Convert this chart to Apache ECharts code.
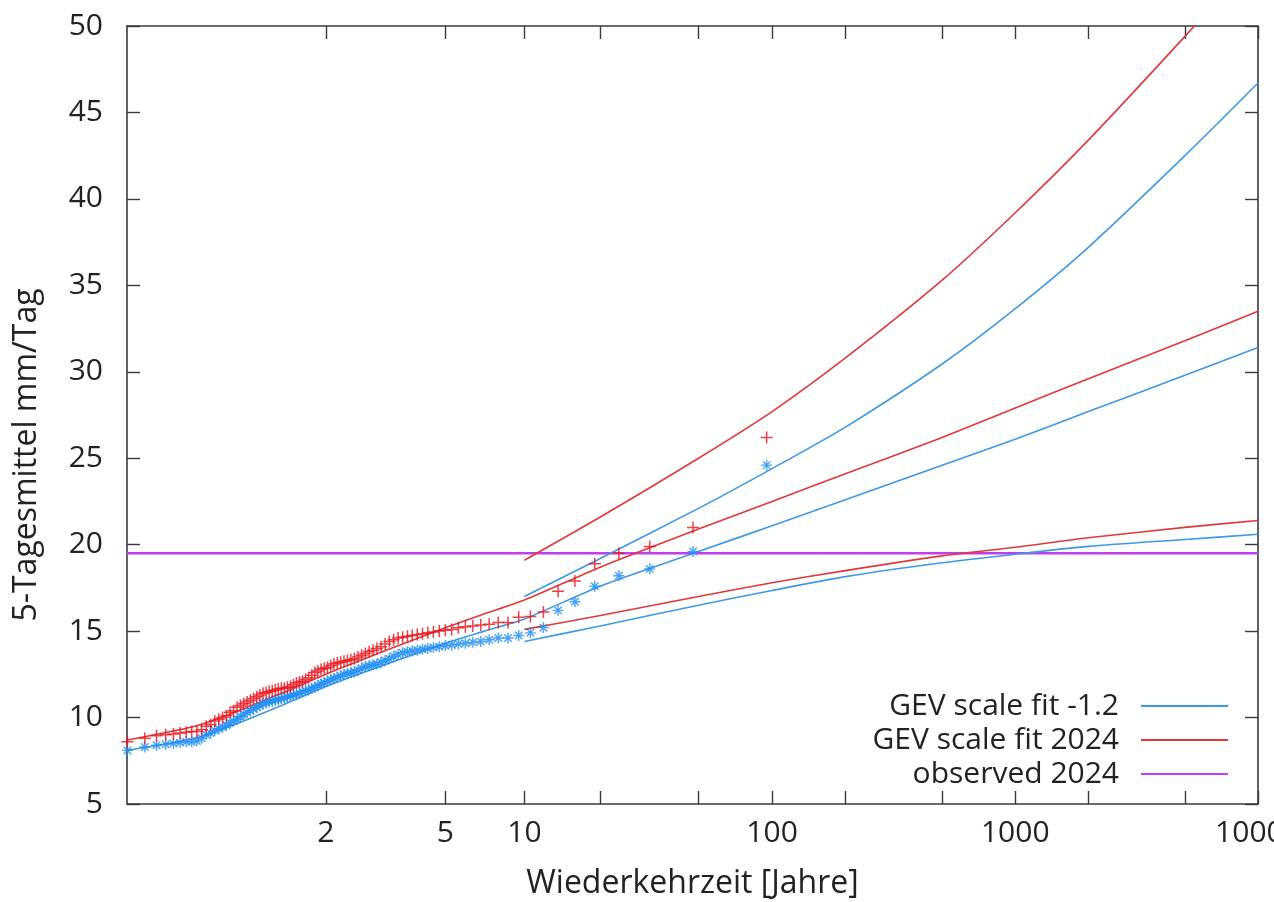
<!DOCTYPE html>
<html><head><meta charset="utf-8">
<script src="https://cdn.jsdelivr.net/npm/echarts@6/dist/echarts.min.js"></script>
<style>html,body{margin:0;padding:0;background:#fff}#c{width:1274px;height:902px}</style>
</head><body><div id="c"></div>
<script>
// ---- data ----
const sampleSize = 94; // annual maxima, Weibull plotting position T=(n+1)/rank
// observed values sorted descending (rank 1 = largest)
const observedScaled2024 = [26.2,21.0,19.9,19.5,18.9,17.9,17.3,16.1,15.85,15.8,
  15.5,15.5,15.4,15.35,15.3,15.25,15.2,15.1,15.05,15.0,
  14.95,14.9,14.85,14.8,14.75,14.7,14.65,14.6,14.5,14.4,
  14.25,14.1,14.0,13.9,13.8,13.7,13.6,13.5,13.4,13.35,
  13.3,13.25,13.2,13.15,13.1,13.0,12.9,12.85,12.8,12.7,
  12.6,12.45,12.3,12.2,12.1,12.05,12.0,11.9,11.8,11.75,
  11.7,11.7,11.65,11.6,11.55,11.5,11.45,11.4,11.3,11.2,
  11.1,11.0,10.9,10.8,10.7,10.6,10.4,10.3,10.1,10.0,
  9.9,9.8,9.6,9.5,9.3,9.2,9.2,9.15,9.1,9.05,
  9.0,8.95,8.8,8.6];
const observedScaledMinus12 = [24.6,19.6,18.6,18.2,17.6,16.7,16.2,15.2,14.9,14.75,
  14.6,14.6,14.5,14.4,14.35,14.3,14.25,14.2,14.15,14.1,
  14.05,14.0,13.95,13.9,13.85,13.8,13.75,13.65,13.55,13.4,
  13.3,13.2,13.1,13.05,13.0,12.95,12.85,12.75,12.65,12.6,
  12.55,12.5,12.4,12.35,12.25,12.2,12.1,12.0,11.95,11.85,
  11.75,11.7,11.6,11.55,11.5,11.4,11.35,11.3,11.25,11.2,
  11.15,11.1,11.05,11.0,10.95,10.9,10.85,10.8,10.7,10.6,
  10.5,10.4,10.3,10.2,10.05,9.9,9.8,9.7,9.55,9.45,
  9.35,9.25,9.1,9.0,8.8,8.65,8.6,8.6,8.55,8.5,
  8.45,8.4,8.3,8.1];

const fitPeriods = [1.0106,1.1,1.2,1.5,2,3,5,7,10,20,50,100,200,500,1000,2000,5000,10000];
const fit2024Central   = [8.7,9.5,10.1,11.3,12.5,13.8,15.2,16.0,16.8,18.7,20.9,22.5,24.1,26.2,27.9,29.6,31.8,33.5];
const fitMinus12Central= [8.1,8.8,9.4,10.6,11.8,13.0,14.3,15.0,15.7,17.6,19.6,21.1,22.6,24.6,26.1,27.7,29.8,31.4];

const bandPeriods = [10,20,50,100,200,500,1000,2000,5000,10000];
const fit2024Upper    = [19.1,21.6,25.0,27.7,30.8,35.3,39.2,43.4,49.4,54.1];
const fit2024Lower    = [15.1,15.9,17.0,17.8,18.5,19.35,19.85,20.4,21.0,21.4];
const fitMinus12Upper = [17.0,19.2,22.1,24.4,26.8,30.45,33.65,37.2,42.5,46.7];
const fitMinus12Lower = [14.4,15.3,16.5,17.35,18.15,18.95,19.45,19.9,20.3,20.6];

const observed2024 = 19.5;

const xTickPeriods  = [2,5,10,20,50,100,200,500,1000,2000,5000,10000];
const xLabelPeriods = [2,5,10,100,1000,10000];
const yMin = 5, yMax = 50, yStep = 5;

const names = {blue:'GEV scale fit -1.2', red:'GEV scale fit 2024', obs:'observed 2024'};

// ---- Gumbel return-period scale ----
const gumbel = T => -Math.log(-Math.log(1 - 1 / T));
const xMin = -1.52, xMax = gumbel(10000);

const pts = arr => arr.map((v, i) => [gumbel((sampleSize + 1) / (i + 1)), v]);
const curve = (periods, vals) => periods.map((T, i) => [gumbel(T), vals[i]]);

const BLUE = '#3d98e6', RED = '#e0383a', BLUE_PT = '#1b8cf5', RED_PT = '#e8121a', MAG = '#c23cf2';
const FONT = '"Open Sans", "DejaVu Sans", sans-serif';
const AX = '#3a3a3a';

function lineSeries(name, data, color) {
  return {type:'line', name, data, symbol:'none', smooth:0.25,
    lineStyle:{color, width:1.6}, itemStyle:{color}, z:3, silent:true};
}

const series = [
  {type:'scatter', name:'obs -1.2', data: pts(observedScaledMinus12),
   symbol:'path://M5,0L5,10M0,5L10,5M1.6,1.6L8.4,8.4M8.4,1.6L1.6,8.4', symbolSize:11,
   itemStyle:{color:BLUE_PT, borderColor:BLUE_PT, borderWidth:1.4}, z:4, silent:true},
  {type:'scatter', name:'obs 2024', data: pts(observedScaled2024),
   symbol:'path://M5,0L5,10M0,5L10,5', symbolSize:12,
   itemStyle:{color:RED_PT, borderColor:RED_PT, borderWidth:1.5}, z:4, silent:true},
  lineSeries(names.blue, curve(fitPeriods, fitMinus12Central), BLUE),
  lineSeries(names.blue, curve(bandPeriods, fitMinus12Upper), BLUE),
  lineSeries(names.blue, curve(bandPeriods, fitMinus12Lower), BLUE),
  lineSeries(names.red, curve(fitPeriods, fit2024Central), RED),
  lineSeries(names.red, curve(bandPeriods, fit2024Upper), RED),
  lineSeries(names.red, curve(bandPeriods, fit2024Lower), RED),
  {type:'line', name:names.obs, data:[[xMin, observed2024],[xMax, observed2024]], symbol:'none',
   lineStyle:{color:MAG, width:2.4}, itemStyle:{color:MAG}, z:2, silent:true}
];

const tickVals = xTickPeriods.map(gumbel);
const labelVals = xLabelPeriods.map(gumbel);
const xLabelFmt = v => {
  for (let i = 0; i < labelVals.length; i++) if (Math.abs(labelVals[i] - v) < 1e-6) return String(xLabelPeriods[i]);
  return '';
};

function legendAt(name, top) {
  return {data:[{name, icon:'rect'}], orient:'horizontal', right:46, top, padding:0, align:'right',
    itemWidth:87, itemHeight:2, selectedMode:false,
    textStyle:{fontFamily:FONT, fontSize:30, color:'#222', padding:[0,17,0,0]}};
}

const option = {
  animation:false,
  backgroundColor:'#fff',
  grid:{left:127, top:26, right:16, bottom:98, containLabel:false, outerBoundsMode:'none'},
  legend:[legendAt(names.blue, 691), legendAt(names.red, 725), legendAt(names.obs, 759)],
  xAxis:[
    {type:'value', min:xMin, max:xMax, position:'bottom',
     name:'Wiederkehrzeit [Jahre]', nameLocation:'middle', nameGap:64,
     nameTextStyle:{fontFamily:FONT, fontSize:32, color:'#222'},
     axisLine:{show:true, onZero:false, lineStyle:{color:AX, width:1.6}},
     axisTick:{show:true, inside:true, length:13, customValues:tickVals, lineStyle:{color:AX, width:1.4}},
     axisLabel:{show:true, customValues:labelVals, formatter:xLabelFmt, margin:14,
       fontFamily:FONT, fontSize:30, color:'#222'},
     splitLine:{show:false}},
    {type:'value', min:xMin, max:xMax, position:'top',
     axisLine:{show:true, onZero:false, lineStyle:{color:AX, width:1.6}},
     axisTick:{show:true, inside:true, length:13, customValues:tickVals, lineStyle:{color:AX, width:1.4}},
     axisLabel:{show:false}, splitLine:{show:false}}
  ],
  yAxis:[
    {type:'value', min:yMin, max:yMax, interval:yStep, position:'left',
     name:'5-Tagesmittel mm/Tag', nameLocation:'middle', nameGap:84, nameRotate:90,
     nameTextStyle:{fontFamily:FONT, fontSize:32, color:'#222', padding:[0,80,0,0]},
     axisLine:{show:true, onZero:false, lineStyle:{color:AX, width:1.6}},
     axisTick:{show:true, inside:true, length:13, lineStyle:{color:AX, width:1.4}},
     axisLabel:{margin:24, fontFamily:FONT, fontSize:30, color:'#222'},
     splitLine:{show:false}},
    {type:'value', min:yMin, max:yMax, interval:yStep, position:'right',
     axisLine:{show:true, onZero:false, lineStyle:{color:AX, width:1.6}},
     axisTick:{show:true, inside:true, length:13, lineStyle:{color:AX, width:1.4}},
     axisLabel:{show:false}, splitLine:{show:false}}
  ],
  series
};
const chart = echarts.init(document.getElementById('c'), null, {renderer:'canvas'});
chart.setOption(option);
</script></body></html>
